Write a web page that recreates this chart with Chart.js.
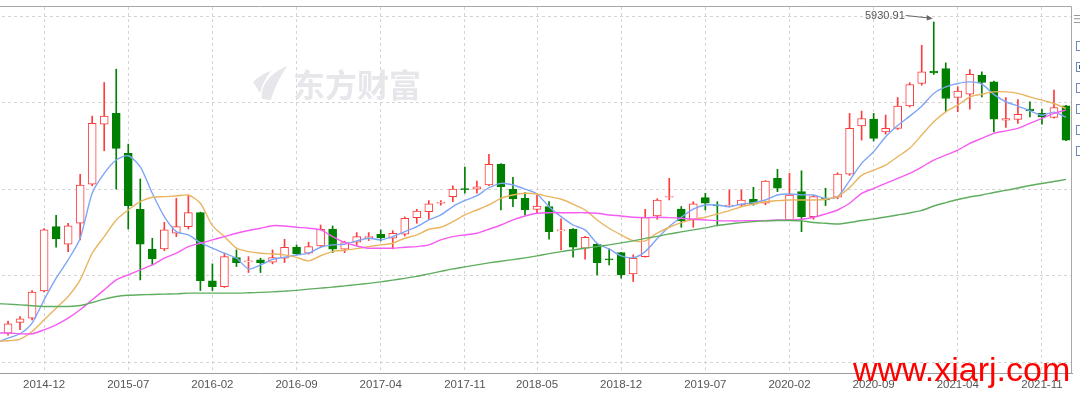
<!DOCTYPE html>
<html>
<head>
<meta charset="utf-8">
<script src="https://cdn.jsdelivr.net/npm/chart.js@4.4.1/dist/chart.umd.min.js"></script>
<style>
  html, body { margin: 0; padding: 0; background: #fff; overflow: hidden; }
  #wrap { position: absolute; left: -10px; top: 0; width: 1090px; height: 393px; }
  .box { position: absolute; left: 1076px; width: 10px; height: 10px; border: 1px solid #6f87b6; box-sizing: border-box; background: #fff; }
  .box.on::after { content: ""; position: absolute; left: 2px; top: 2px; width: 4px; height: 4px; background: #3c5a94; }
  #menu { position: absolute; left: 1073px; top: 13px; font: 11px "DejaVu Sans", sans-serif; color: #999; }
  #site { position: absolute; left: 853px; top: 352px; font: 34px "Liberation Sans", Arial, sans-serif; line-height: 34px; color: #ff0000; white-space: nowrap; }
</style>
</head>
<body>
<div id="wrap"><canvas id="kline"></canvas></div>
<div id="menu">☰</div>
<div class="box" style="top:41px"></div>
<div class="box on" style="top:62px"></div>
<div class="box" style="top:83px"></div>
<div class="box" style="top:104px"></div>
<div class="box" style="top:125px"></div>
<div class="box" style="top:146px"></div>
<div id="site">www.xiarj.com</div>
<script>
// monthly candles, first month only carries the moving averages
const months = [
  "2014-08","2014-09","2014-10","2014-11","2014-12",
  "2015-01","2015-02","2015-03","2015-04","2015-05","2015-06","2015-07","2015-08","2015-09","2015-10","2015-11","2015-12",
  "2016-01","2016-02","2016-03","2016-04","2016-05","2016-06","2016-07","2016-08","2016-09","2016-10","2016-11","2016-12",
  "2017-01","2017-02","2017-03","2017-04","2017-05","2017-06","2017-07","2017-08","2017-09","2017-10","2017-11","2017-12",
  "2018-01","2018-02","2018-03","2018-04","2018-05","2018-06","2018-07","2018-08","2018-09","2018-10","2018-11","2018-12",
  "2019-01","2019-02","2019-03","2019-04","2019-05","2019-06","2019-07","2019-08","2019-09","2019-10","2019-11","2019-12",
  "2020-01","2020-02","2020-03","2020-04","2020-05","2020-06","2020-07","2020-08","2020-09","2020-10","2020-11","2020-12",
  "2021-01","2021-02","2021-03","2021-04","2021-05","2021-06","2021-07","2021-08","2021-09","2021-10","2021-11","2021-12",
  "2022-01"
];

const openV = [null,
  2339,2461,2512,2827,3568,3365,3607,4057,4752,4875,4414,3768,3307,3311,3492,3568,3729,2942,2876,3211,
  3160,3184,3158,3203,3330,3261,3345,3541,3307,3388,3441,3480,3434,3480,3672,3741,3838,3914,4006,4002,
  4049,4287,3999,3895,3768,3799,3518,3538,3319,3365,3196,3268,3023,3222,3691,3907,3772,3645,3903,3818,
  3806,3818,3884,3838,4126,3645,3972,3683,3895,3907,4175,4732,4809,4663,4702,4963,5221,5363,5394,5059,
  5097,5317,5240,4798,4806,4925,4875,4829,4963];
const highV = [null,
  2478,2530,2830,3545,3699,3607,4172,4844,5232,5386,4521,4118,3434,3618,3895,3933,3735,3138,3261,3299,
  3222,3203,3299,3422,3357,3388,3587,3576,3400,3499,3499,3530,3522,3680,3768,3868,3868,4040,4255,4094,
  4403,4295,4138,3960,3933,3856,3657,3545,3455,3375,3311,3270,3242,3768,3890,4126,3800,3856,3953,3856,
  3991,3991,4022,4100,4229,4183,4213,3930,4011,4190,4875,4902,4875,4856,5059,5230,5662,5930.91,5459,5182,
  5382,5355,5250,5059,5036,5009,4925,5144,4970];
const lowV = [null,
  2315,2377,2490,2815,3330,3280,3415,4040,4444,4002,3541,2953,3126,3291,3453,3541,2830,2830,2866,3107,
  3038,3038,3138,3153,3242,3250,3330,3268,3268,3357,3407,3403,3311,3460,3607,3653,3815,3856,3953,3953,
  4040,3760,3799,3703,3729,3423,3299,3215,3192,3011,3126,2972,2934,3215,3653,3876,3561,3561,3760,3576,
  3795,3810,3815,3820,3972,3640,3510,3653,3811,3890,4160,4567,4556,4636,4690,4950,5201,5325,4894,4894,
  4925,5067,4663,4713,4760,4836,4752,4820,4560];
const closeV = [null,
  2446,2504,2811,3530,3426,3576,4048,4760,4844,4471,3810,3365,3196,3530,3568,3729,2945,2876,3222,3153,
  3172,3153,3211,3330,3253,3337,3538,3307,3384,3453,3453,3441,3492,3665,3749,3830,3849,4002,3994,4029,
  4287,4029,3887,3760,3806,3510,3530,3330,3445,3153,3184,3011,3203,3672,3876,3914,3634,3830,3838,3806,
  3818,3876,3826,4094,4011,3933,3683,3914,3876,4175,4702,4817,4587,4702,4959,5209,5355,5343,5048,5132,
  5328,5232,4809,4817,4864,4905,4836,4944,4567];

// moving averages
const ma5 = [2225,
  2281,2331,2454,2723,2973,3184,3434,3953,4183,4337,4386,4259,3953,3683,3510,3472,3383,3319,3261,3204,
  3080,3126,3190,3215,3240,3262,3330,3357,3365,3403,3434,3415,3453,3510,3568,3645,3703,3800,3870,3925,
  4017,4068,4049,4002,3945,3798,3683,3587,3530,3376,3310,3230,3210,3280,3430,3570,3676,3770,3818,3818,
  3798,3829,3845,3876,3933,3945,3935,3933,3895,3914,4100,4299,4432,4605,4735,4844,4959,5106,5182,5221,
  5239,5213,5095,5010,4960,4905,4855,4890,4830];
const ma10 = [2245,
  2250,2270,2357,2492,2627,2761,2953,3261,3453,3645,3760,3856,3907,3914,3922,3933,3838,3580,3453,3319,
  3280,3261,3253,3242,3213,3173,3232,3280,3296,3314,3337,3357,3376,3434,3472,3538,3561,3625,3703,3760,
  3818,3895,3933,3953,3945,3914,3884,3829,3760,3645,3549,3472,3406,3403,3492,3561,3614,3653,3676,3714,
  3752,3798,3829,3856,3868,3876,3876,3876,3884,3914,4020,4160,4221,4279,4375,4472,4625,4778,4893,4971,
  5066,5097,5124,5124,5106,5066,5028,4990,4933];
const ma20 = [2340,
  2339,2331,2331,2377,2435,2512,2608,2723,2838,2953,3011,3069,3126,3204,3261,3337,3376,3415,3453,3492,
  3524,3549,3579,3576,3561,3549,3530,3453,3386,3345,3319,3319,3319,3330,3337,3357,3415,3453,3472,3492,
  3538,3587,3645,3691,3722,3729,3729,3729,3729,3722,3703,3691,3676,3672,3676,3672,3665,3653,3645,3637,
  3634,3634,3637,3637,3645,3645,3653,3676,3714,3760,3838,3953,4008,4068,4126,4183,4256,4337,4394,4452,
  4529,4587,4645,4674,4702,4760,4817,4875,4913];
const ma60 = [2680,
  2673,2665,2654,2646,2646,2646,2657,2692,2731,2761,2775,2781,2784,2789,2792,2800,2800,2800,2800,2800,
  2804,2809,2815,2823,2832,2846,2858,2869,2884,2899,2913,2930,2950,2971,2994,3023,3051,3080,3103,3126,
  3149,3169,3187,3207,3230,3257,3280,3299,3319,3337,3357,3380,3403,3432,3455,3484,3507,3530,3553,3582,
  3599,3614,3626,3634,3639,3639,3634,3616,3607,3599,3616,3639,3657,3680,3703,3726,3755,3806,3845,3881,
  3910,3933,3962,3987,4014,4043,4066,4089,4114];

const tickLabels = ["2014-12","2015-07","2016-02","2016-09","2017-04","2017-11","2018-05",
                    "2018-12","2019-07","2020-02","2020-09","2021-04","2021-11"];
const yTicks = [2000, 3000, 4000, 5000, 6000];
const watermark = "东方财富";

const upColor = "#ff3b3b";
const downColor = "#008000";
const gridColor = "#d4d4d4";

const isUp = i => closeV[i] >= openV[i];
const wickData = highV.map((h, i) => h == null ? null : [lowV[i], h]);
const bodyData = openV.map((o, i) => o == null ? null : [o, closeV[i]]);

const decor = {
  id: "decor",
  beforeDatasetsDraw(chart) {
    const c = chart.ctx;
    c.save();
    c.fillStyle = "#e6e6eb";
    // logo
    c.beginPath();
    c.moveTo(272, 99);
    c.bezierCurveTo(270, 86, 280, 73, 297, 66);
    c.bezierCurveTo(290, 77, 284, 88, 281, 100);
    c.closePath();
    c.fill();
    c.beginPath();
    c.moveTo(263, 82);
    c.quadraticCurveTo(271, 74, 281, 71);
    c.quadraticCurveTo(273, 81, 270, 93);
    c.closePath();
    c.fill();
    c.font = 'bold 32px "Noto Sans CJK SC"';
    c.textBaseline = "middle";
    c.fillText(watermark, 303, 85);
    c.restore();
  },
  afterDraw(chart) {
    const { ctx, chartArea, scales } = chart;
    ctx.save();
    ctx.strokeStyle = "#a8a8a8";
    ctx.lineWidth = 1;
    ctx.beginPath();
    ctx.moveTo(0, chartArea.top - 0.5);
    ctx.lineTo(chartArea.right - 0.5, chartArea.top - 0.5);
    ctx.lineTo(chartArea.right - 0.5, chartArea.bottom);
    ctx.stroke();

    // highest point marker
    let mi = 1;
    highV.forEach((h, i) => { if (h != null && h > highV[mi]) mi = i; });
    const px = scales.x.getPixelForValue(mi);
    const py = scales.y.getPixelForValue(highV[mi]);
    ctx.strokeStyle = "#666";
    ctx.fillStyle = "#666";
    ctx.beginPath();
    ctx.moveTo(px - 28, py - 6.5);
    ctx.lineTo(px - 5, py - 4);
    ctx.stroke();
    ctx.beginPath();
    ctx.moveTo(px - 1, py - 3.5);
    ctx.lineTo(px - 7, py - 7);
    ctx.lineTo(px - 7, py - 1.5);
    ctx.closePath();
    ctx.fill();
    ctx.fillStyle = "#555";
    ctx.font = '11px "Liberation Sans", Arial, sans-serif';
    ctx.textAlign = "right";
    ctx.textBaseline = "middle";
    ctx.fillText(highV[mi].toFixed(2), px - 29, py - 6.5);
    ctx.restore();
  }
};

const lineSet = (data, color) => ({
  type: "line", data, borderColor: color, borderWidth: 1.4,
  pointRadius: 0, tension: 0.25, order: 0
});

new Chart(document.getElementById("kline"), {
  type: "bar",
  data: {
    labels: months,
    datasets: [
      lineSet(ma60, "#5fae5f"),
      lineSet(ma20, "#f55cf2"),
      lineSet(ma10, "#e9b561"),
      lineSet(ma5, "#7fa5f7"),
      {
        type: "bar", data: bodyData, barThickness: 8, grouped: false, order: 1,
        backgroundColor: c => isUp(c.dataIndex) ? "#ffffff" : downColor,
        borderColor: c => isUp(c.dataIndex) ? upColor : downColor,
        borderWidth: 1, borderSkipped: false
      },
      {
        type: "bar", data: wickData, barThickness: 1, grouped: false, order: 2,
        backgroundColor: c => isUp(c.dataIndex) ? upColor : downColor,
        borderWidth: 0
      }
    ]
  },
  options: {
    responsive: true,
    maintainAspectRatio: false,
    animation: false,
    devicePixelRatio: 1,
    layout: { padding: { left: 0, right: 8, top: 7, bottom: 0 } },
    plugins: { legend: { display: false }, tooltip: { enabled: false } },
    scales: {
      x: {
        type: "category",
        offset: true,
        grid: { offset: false, color: gridColor, drawTicks: false },
        border: { color: "#9c9c9c", dash: [3, 3] },
        ticks: {
          autoSkip: false, maxRotation: 0, color: "#555", padding: 5,
          font: { size: 11.5, family: '"Liberation Sans", Arial, sans-serif' }
        },
        afterBuildTicks: s => { s.ticks = tickLabels.map(l => ({ value: months.indexOf(l) })); },
        afterFit: s => { s.height = 20; }
      },
      y: {
        min: 1878,
        max: 6104,
        grid: { color: gridColor, drawTicks: false },
        border: { display: false, dash: [3, 3] },
        ticks: { display: false },
        afterBuildTicks: s => { s.ticks = yTicks.map(v => ({ value: v })); },
        afterFit: s => { s.width = 0; }
      }
    }
  },
  plugins: [decor]
});
</script>
</body>
</html>
